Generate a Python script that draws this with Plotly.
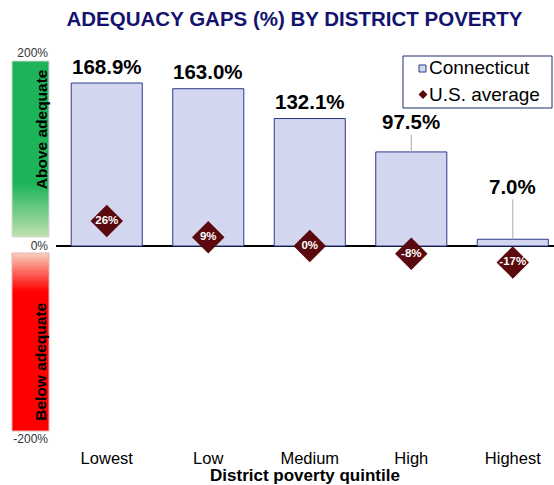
import plotly.graph_objects as go

categories = ["Lowest", "Low", "Medium", "High", "Highest"]
connecticut = [168.9, 163.0, 132.1, 97.5, 7.0]
us_average = [26, 9, 0, -8, -17]
y_ticks = [-200, 0, 200]
y_tick_text = ["-200%", "0%", "200%"]
legend_names = ["Connecticut", "U.S. average"]

# label offsets (pixels above bar top) and leader-line visibility
label_offsets = [-17, -17, -17, -30, -53]
label_lines = [False, False, False, True, True]

FONT = "Liberation Sans, Arial, Helvetica, sans-serif"
BAR_FILL = "#D2D6EF"
BAR_LINE = "#2B3A8A"
DIAMOND = "#5A0A0E"

# plot-area geometry (pixels) for paper-coordinate helpers
PL, PR, PT, PB = 56, 554, 53, 439
def px(x):
    return (x - PL) / (PR - PL)
def py(y):
    return (PB - y) / (PB - PT)

fig = go.Figure()
fig.add_trace(go.Bar(
    x=categories, y=connecticut, name=legend_names[0],
    marker=dict(color=BAR_FILL, line=dict(color=BAR_LINE, width=1)),
    width=0.7, showlegend=False, hoverinfo="skip",
))
fig.add_trace(go.Scatter(
    x=categories, y=us_average, name=legend_names[1], mode="markers+text",
    marker=dict(symbol="diamond", size=25, color=DIAMOND),
    text=[f"<b>{v}%</b>" for v in us_average], textposition="middle center",
    textfont=dict(color="white", size=11.5, family=FONT),
    cliponaxis=False, showlegend=False, hoverinfo="skip",
))

annotations = []
for c, v, off, line in zip(categories, connecticut, label_offsets, label_lines):
    annotations.append(dict(
        x=c, y=v, xref="x", yref="y", text=f"<b>{v:.1f}%</b>",
        showarrow=True, arrowhead=0, ax=0, ay=off, standoff=0,
        arrowcolor="#AAAAAA" if line else "rgba(0,0,0,0)", arrowwidth=1,
        font=dict(size=20.5, color="black", family=FONT),
    ))

# side gradient bars
def lerp(c1, c2, t):
    return "rgb(%d,%d,%d)" % tuple(round(a + (b - a) * t) for a, b in zip(c1, c2))

shapes = []
x0, x1 = px(12), px(49)
green = (29, 179, 88)
light_green = (192, 226, 175)
green_top, green_mid, green_bot = 191.7, 65, 9.3
shapes.append(dict(type="rect", xref="paper", yref="y", x0=x0, x1=x1, y0=green_mid - 1, y1=green_top,
                   fillcolor=lerp(green, green, 0), line=dict(width=0), layer="below"))
n = 40
for i in range(n):
    ya = green_mid - (green_mid - green_bot) * i / n
    yb = green_mid - (green_mid - green_bot) * (i + 1) / n
    shapes.append(dict(type="rect", xref="paper", yref="y", x0=x0, x1=x1, y0=max(yb - 1.5, green_bot), y1=ya,
                       fillcolor=lerp(green, light_green, (i + 0.5) / n), line=dict(width=0), layer="below"))
shapes.append(dict(type="rect", xref="paper", yref="y", x0=x0, x1=x1, y0=green_bot, y1=green_top,
                   line=dict(color="#D8D8D8", width=1)))

red = (255, 0, 0)
peach = (249, 216, 196)
red_top, red_mid, red_bot = -7.3, -48.7, -191.7
shapes.append(dict(type="rect", xref="paper", yref="y", x0=x0, x1=x1, y0=red_bot, y1=red_mid + 1,
                   fillcolor="rgb(255,0,0)", line=dict(width=0), layer="below"))
for i in range(n):
    ya = red_top - (red_top - red_mid) * i / n
    yb = red_top - (red_top - red_mid) * (i + 1) / n
    shapes.append(dict(type="rect", xref="paper", yref="y", x0=x0, x1=x1, y0=yb, y1=min(ya + 1.5, red_top),
                       fillcolor=lerp(peach, red, (i + 0.5) / n), line=dict(width=0), layer="below"))
shapes.append(dict(type="rect", xref="paper", yref="y", x0=x0, x1=x1, y0=red_bot, y1=red_top,
                   line=dict(color="#E8B0B0", width=1)))

annotations.append(dict(x=(x0 + x1) / 2, y=121, xref="paper", yref="y", text="<b>Above adequate</b>",
                        textangle=-90, showarrow=False, font=dict(size=15.5, color="black", family=FONT)))
annotations.append(dict(x=(x0 + x1) / 2, y=-120, xref="paper", yref="y", text="<b>Below adequate</b>",
                        textangle=-90, showarrow=False, font=dict(size=15.5, color="black", family=FONT)))

# legend box (drawn manually to match the compact original)
shapes.append(dict(type="rect", xref="paper", yref="paper", x0=px(403), x1=px(552), y0=py(108), y1=py(56),
                   fillcolor="white", line=dict(color="#1C2A6A", width=1)))
shapes.append(dict(type="rect", xref="paper", yref="paper", x0=px(419), x1=px(426), y0=py(72), y1=py(65),
                   fillcolor=BAR_FILL, line=dict(color=BAR_LINE, width=1)))
cx, cy, r = 423, 94.5, 4.5
shapes.append(dict(type="path", xref="paper", yref="paper",
                   path=f"M {px(cx - r)} {py(cy)} L {px(cx)} {py(cy - r)} L {px(cx + r)} {py(cy)} L {px(cx)} {py(cy + r)} Z",
                   fillcolor=DIAMOND, line=dict(width=0)))
for name, ty in zip(legend_names, [67, 94]):
    annotations.append(dict(x=px(427), y=py(ty), xref="paper", yref="paper", xanchor="left", yanchor="middle",
                            text=name, showarrow=False, font=dict(size=19, color="black", family=FONT)))

fig.update_layout(
    width=554, height=485,
    margin=dict(l=PL, r=554 - PR, t=PT, b=485 - PB, autoexpand=False),
    paper_bgcolor="white", plot_bgcolor="white",
    title=dict(text="<b>ADEQUACY GAPS (%) BY DISTRICT POVERTY</b>", x=0.5316, xanchor="center",
               y=1 - 19 / 485, yanchor="middle", font=dict(size=20.5, color="#13136F", family=FONT)),
    font=dict(family=FONT),
    showlegend=False,
    hovermode=False,
    xaxis=dict(range=[-0.5, 4.406], showgrid=False, showline=False, ticks="",
               tickfont=dict(size=16.5, color="black"), ticklabelstandoff=7,
               title=dict(text="<b>District poverty quintile</b>", font=dict(size=17, color="black"), standoff=5)),
    yaxis=dict(range=[-200, 200], tickmode="array", tickvals=y_ticks, ticktext=y_tick_text,
               showgrid=True, gridcolor="#DDDDDD",
               zeroline=True, zerolinecolor="black", zerolinewidth=2,
               tickfont=dict(size=12, color="#333333"), ticklabelstandoff=7),
    shapes=shapes,
    annotations=annotations,
    bargap=0.3,
)

fig.write_html("out.html", config={"displayModeBar": False},
               post_script="document.body.style.margin='0';document.body.style.padding='0';")
